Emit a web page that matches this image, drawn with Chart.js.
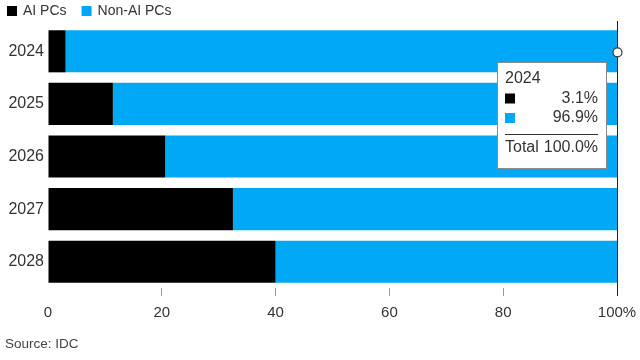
<!DOCTYPE html>
<html>
<head>
<meta charset="utf-8">
<script src="https://cdn.jsdelivr.net/npm/chart.js@4/dist/chart.umd.min.js"></script>
<style>
  html, body { margin: 0; padding: 0; background: #fff; }
  #wrap { position: relative; width: 640px; height: 360px; }
</style>
</head>
<body>
<div id="wrap"><canvas id="c" width="640" height="360"></canvas></div>
<script>
const categories = ['2024', '2025', '2026', '2027', '2028'];
const aiPCs = [3.1, 11.4, 20.6, 32.5, 40.0];
const nonAiPCs = [96.9, 88.6, 79.4, 67.5, 60.0];
const seriesNames = ['AI PCs', 'Non-AI PCs'];
const xTicks = [0, 20, 40, 60, 80, 100];
const sourceText = 'Source: IDC';
const hoverIndex = 0;

const COLORS = ['#000000', '#00a8f5'];
const FONT = '"Liberation Sans", Arial, Helvetica, sans-serif';
const TEXT = '#333333';

const overlay = {
  id: 'overlay',
  afterDraw(chart) {
    const ctx = chart.ctx;
    const xs = chart.scales.x, ys = chart.scales.y, area = chart.chartArea;
    ctx.save();
    // legend
    ctx.font = '14px ' + FONT;
    ctx.textBaseline = 'middle';
    ctx.textAlign = 'left';
    let lx = 7;
    seriesNames.forEach((name, i) => {
      ctx.fillStyle = COLORS[i];
      ctx.fillRect(lx, 6, 10, 10);
      ctx.fillStyle = TEXT;
      ctx.fillText(name, lx + 16, 11.5);
      lx += 16 + ctx.measureText(name).width + 15;
    });
    // source
    ctx.font = '13.5px ' + FONT;
    ctx.fillStyle = '#444';
    ctx.fillText(sourceText, 5, 344);

    // hover line
    const hx = Math.round(xs.getPixelForValue(100)) + 0.5;
    ctx.strokeStyle = '#222';
    ctx.lineWidth = 1;
    ctx.beginPath();
    ctx.moveTo(hx, 21);
    ctx.lineTo(hx, area.bottom);
    ctx.stroke();
    // hover dot
    const hy = ys.getPixelForValue(hoverIndex);
    ctx.beginPath();
    ctx.arc(hx, hy + 1, 4.5, 0, Math.PI * 2);
    ctx.fillStyle = '#fff';
    ctx.fill();
    ctx.strokeStyle = '#333';
    ctx.lineWidth = 1.2;
    ctx.stroke();

    // tooltip
    const bx = 497.5, by = 62.5, bw = 109, bh = 106;
    ctx.fillStyle = '#fff';
    ctx.fillRect(bx, by, bw, bh);
    ctx.strokeStyle = '#8a8a8a';
    ctx.lineWidth = 1;
    ctx.strokeRect(bx, by, bw, bh);
    ctx.font = '16px ' + FONT;
    ctx.fillStyle = TEXT;
    ctx.textAlign = 'left';
    ctx.fillText(categories[hoverIndex], 505, 78.5);
    const vals = [aiPCs[hoverIndex], nonAiPCs[hoverIndex]];
    const rowsY = [98.5, 118];
    vals.forEach((v, i) => {
      ctx.fillStyle = COLORS[i];
      ctx.fillRect(505, rowsY[i] - 5, 10, 10);
      ctx.fillStyle = TEXT;
      ctx.textAlign = 'right';
      ctx.fillText(v.toFixed(1) + '%', 598, rowsY[i]);
    });
    ctx.strokeStyle = '#333';
    ctx.beginPath();
    ctx.moveTo(505, 134.5);
    ctx.lineTo(598, 134.5);
    ctx.stroke();
    ctx.fillStyle = TEXT;
    ctx.textAlign = 'left';
    ctx.fillText('Total', 505, 147.5);
    ctx.textAlign = 'right';
    ctx.fillText((vals[0] + vals[1]).toFixed(1) + '%', 598, 147.5);
    ctx.restore();
  }
};

new Chart(document.getElementById('c'), {
  type: 'bar',
  data: {
    labels: categories,
    datasets: [
      { label: seriesNames[0], data: aiPCs, backgroundColor: COLORS[0], borderWidth: 0, barPercentage: 0.8, categoryPercentage: 1.0 },
      { label: seriesNames[1], data: nonAiPCs, backgroundColor: COLORS[1], borderWidth: 0, barPercentage: 0.8, categoryPercentage: 1.0 }
    ]
  },
  options: {
    indexAxis: 'y',
    responsive: false,
    animation: false,
    events: [],
    layout: { padding: { left: 1, right: 23, top: 25, bottom: 30 } },
    plugins: { legend: { display: false }, tooltip: { enabled: false } },
    scales: {
      x: {
        stacked: true,
        min: 0, max: 100,
        afterBuildTicks(scale) { scale.ticks = xTicks.map(v => ({ value: v })); },
        afterFit(scale) { scale.paddingRight = 0; scale.paddingLeft = 0; },
        ticks: {
          color: TEXT,
          font: { family: FONT, size: 15 },
          padding: 8,
          maxRotation: 0,
          callback: v => (v === 100 ? v + '%' : v)
        },
        grid: {
          drawOnChartArea: false,
          drawTicks: true,
          tickLength: 8,
          color: ctx => (ctx.tick && ctx.tick.value === 100 ? '#222' : (ctx.tick && ctx.tick.value === 0 ? 'rgba(0,0,0,0)' : '#999'))
        },
        border: { display: false }
      },
      y: {
        stacked: true,
        afterFit(scale) { scale.width = 47; },
        ticks: { color: TEXT, font: { family: FONT, size: 16 }, padding: 4 },
        grid: { display: false, drawTicks: false },
        border: { display: false }
      }
    }
  },
  plugins: [overlay]
});
</script>
</body>
</html>
